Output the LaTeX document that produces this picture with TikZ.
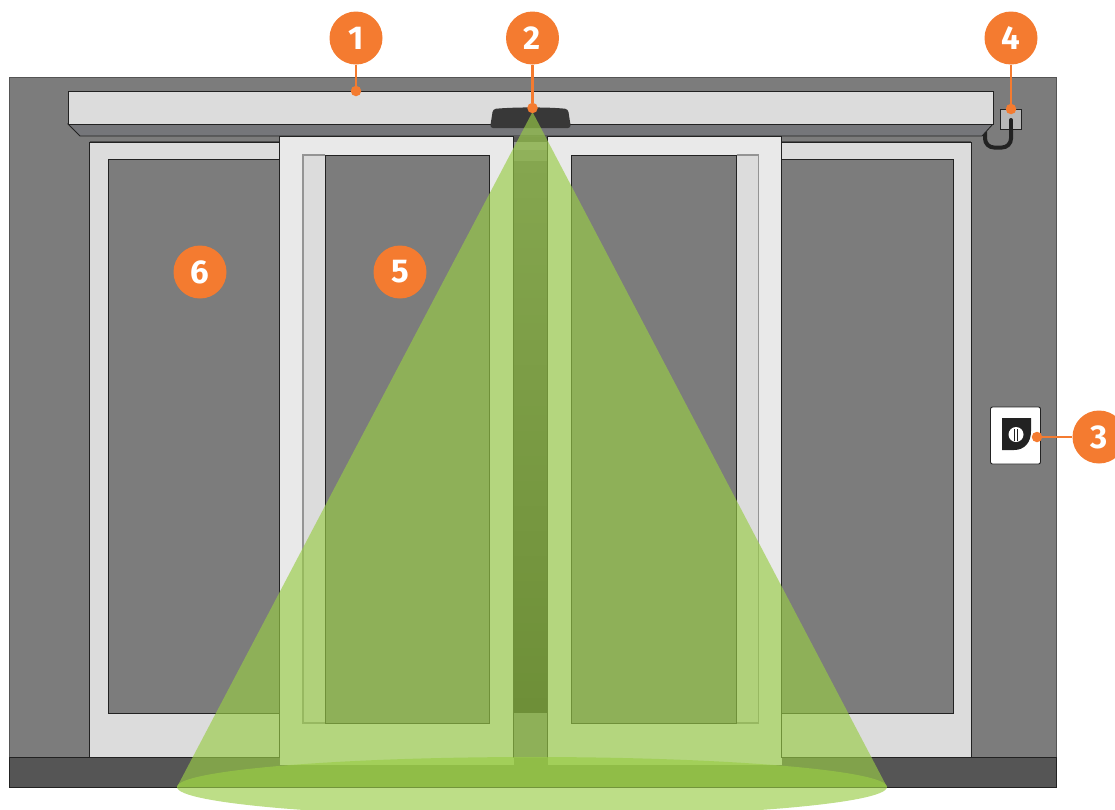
\documentclass[tikz,border=0pt]{standalone}
\usepackage{fontspec}
\setmainfont{Fira Sans}
\definecolor{wall}{HTML}{7C7C7C}
\definecolor{floorc}{HTML}{555555}
\definecolor{frame}{HTML}{DCDCDC}
\definecolor{door}{HTML}{E9E9E9}
\definecolor{soffit}{HTML}{75767A}
\definecolor{orangec}{HTML}{F47B30}
\definecolor{beam}{HTML}{99CC46}
\definecolor{ink}{HTML}{222222}
\usetikzlibrary{calc}
\tikzset{
  outl/.style={draw=ink,line width=0.8pt},
  softl/.style={draw=black!42,line width=1.1pt},
  badge/.style={circle,fill=orangec,text=white,minimum size=53pt,inner sep=0pt,font=\bfseries\fontsize{33}{33}\selectfont},
  tipdot/.style={circle,fill=orangec,minimum size=10.5pt,inner sep=0pt},
  leader/.style={draw=orangec,line width=2.6pt},
  beamfill/.style={fill=beam,fill opacity=0.65,draw=none},
}
\begin{document}
\begin{tikzpicture}[x=1pt,y=-1pt]
\useasboundingbox (0,0) rectangle (1115,809);
\clip (0,0) rectangle (1115,809);
% wall and floor
\fill[wall,draw=floorc,line width=0.8pt] (9.5,77.5) rectangle (1056,758);
\fill[floorc,draw=ink,line width=0.6pt] (9.5,757.5) rectangle (1056,787);
% cable passes behind the header
\draw[ink,line width=4pt,line cap=round,rounded corners=9pt] (1011,120) -- (1011,147.5) -- (985,147.5) -- (985,128);
% header
\fill[soffit,outl] (68,124) -- (80,136) -- (982,136) -- (993,124) -- cycle;
\fill[frame,outl] (68,91) rectangle (993,124);
% fixed panels
\fill[frame,draw=ink,line width=0.8pt] (89.5,142) rectangle (971,757.5);
\draw[draw=black!70,line width=1.4pt] (89.5,141.5) -- (971,141.5);
\fill[wall,outl] (108,159) rectangle (953,713);
% centre gap, in shadow
\fill[floorc] (513.5,136.5) rectangle (547.5,142);
\fill[black!42] (513.5,142) rectangle (547.5,150);
\fill[black!50] (513.5,150) rectangle (547.5,161);
\shade[top color=black!62,bottom color=black!88] (513.5,161) rectangle (547.5,713);
\fill[wall] (513.5,713) rectangle (547.5,757.5);
% sliding doors
\fill[door] (279.7,136) rectangle (513.5,765);
\draw[outl] (279.7,757.5) -- (279.7,136) -- (513.5,136) -- (513.5,757.5);
\fill[wall,outl] (303,155) rectangle (489.6,723);
\fill[frame] (303,155) rectangle (325,723);
\draw[outl] (325,155) -- (325,723);
\draw[softl] (325,155) -- (303,155) -- (303,723) -- (325,723);
\fill[door] (547.5,136) rectangle (781.5,765);
\draw[outl] (547.5,757.5) -- (547.5,136) -- (781.5,136) -- (781.5,757.5);
\fill[wall,outl] (571,155) rectangle (758.5,723);
\fill[frame] (736.5,155) rectangle (758.5,723);
\draw[outl] (736.5,155) -- (736.5,723);
\draw[softl] (736.5,155) -- (758.5,155) -- (758.5,723) -- (736.5,723);
% sensor
\fill[ink!90!white,rounded corners=3pt] (493,109) .. controls (515,107) and (548,107) .. (568,109) -- (571,128) -- (490,128) -- cycle;
% socket and cable
\fill[black!28,outl] (1000.5,109) rectangle (1021.5,129);
\draw[ink,line width=4pt,line cap=round] (1011,120) -- (1011,135);
% wall switch
\fill[white,draw=ink,line width=0.9pt,rounded corners=2pt] (990.5,407) rectangle (1040.5,464);
\fill[ink] (1002,418) -- (1031,418) -- (1031,431) .. controls (1031,443) and (1024,450) .. (1014,450) -- (1002,450) -- cycle;
\fill[white] (1016,434.5) circle (7.5);
\fill[ink] (1014,428.5) rectangle (1015.1,440.5);
\fill[ink] (1017.1,428.5) rectangle (1018.2,440.5);
% beam
\fill[beamfill] (532.5,112) -- (887,787) -- (177,787) -- cycle;
\fill[beamfill] (532,787) ellipse (355 and 30);
% callouts
\node[badge] (b1) at (356,38) {1};
\node[badge] (b2) at (532.5,38) {2};
\node[badge] (b4) at (1011,38) {4};
\node[badge] (b3) at (1099,437) {3};
\node[badge] (b5) at (400,272) {5};
\node[badge] (b6) at (200,272) {6};
\node[tipdot] (d1) at (356,91) {};
\node[tipdot] (d2) at (532.5,108) {};
\node[tipdot] (d4) at (1011,109) {};
\node[tipdot] (d3) at (1037,437) {};
\draw[leader] (b1) -- (d1);
\draw[leader] (b2) -- (d2);
\draw[leader] (b4) -- (d4);
\draw[leader] (b3) -- (d3);
\end{tikzpicture}
\end{document}
